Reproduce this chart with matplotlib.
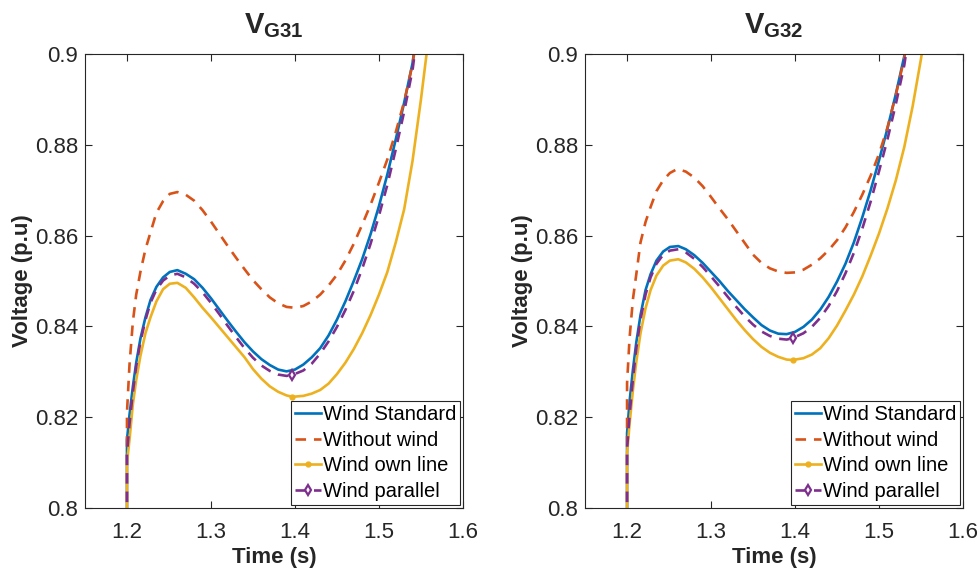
import matplotlib
matplotlib.use("Agg")
from matplotlib import pyplot as plt

plt.rcParams['font.family'] = ['Liberation Sans', 'DejaVu Sans']
plt.rcParams['mathtext.fontset'] = 'custom'
plt.rcParams['mathtext.rm'] = 'Liberation Sans'
plt.rcParams['mathtext.bf'] = 'Liberation Sans:bold'

# ---- data (time s, voltage p.u) ----
# V_G31
t_std_31 = [1.2, 1.2, 1.203, 1.207, 1.211, 1.216, 1.222, 1.228, 1.235, 1.243, 1.251, 1.26, 1.27,
            1.28, 1.29, 1.30, 1.31, 1.32, 1.33, 1.34, 1.35, 1.36, 1.37, 1.38, 1.39, 1.40, 1.41,
            1.42, 1.43, 1.44, 1.45, 1.46, 1.47, 1.48, 1.49, 1.50, 1.51, 1.52, 1.53, 1.54, 1.545]
v_std_31 = [0.75, 0.815, 0.8205, 0.8267, 0.832, 0.8373, 0.842, 0.8458, 0.8487, 0.8508, 0.852, 0.8524,
            0.8516, 0.8504, 0.8485, 0.8462, 0.8437, 0.8412, 0.8388, 0.8365, 0.8345, 0.8328, 0.8315,
            0.8305, 0.8301, 0.8305, 0.8316, 0.8332, 0.8352, 0.838, 0.8415, 0.8455, 0.85, 0.8548,
            0.8603, 0.8665, 0.8735, 0.8812, 0.8893, 0.898, 0.905]
t_no_31 = [1.2, 1.2, 1.203, 1.207, 1.211, 1.216, 1.222, 1.228, 1.235, 1.243, 1.251, 1.26, 1.27,
           1.28, 1.29, 1.30, 1.31, 1.32, 1.33, 1.34, 1.35, 1.36, 1.37, 1.38, 1.39, 1.40, 1.41,
           1.42, 1.43, 1.44, 1.45, 1.46, 1.47, 1.48, 1.49, 1.50, 1.51, 1.52, 1.53, 1.54, 1.546]
v_no_31 = [0.75, 0.821, 0.8315, 0.841, 0.847, 0.852, 0.857, 0.8607, 0.865, 0.8676, 0.8692, 0.8696,
           0.869, 0.8677, 0.8656, 0.8631, 0.8604, 0.8577, 0.8551, 0.8526, 0.8502, 0.8482, 0.8464,
           0.8451, 0.8443, 0.8441, 0.8445, 0.8455, 0.847, 0.849, 0.8514, 0.8545, 0.8582, 0.8624,
           0.8668, 0.8717, 0.8768, 0.8828, 0.8895, 0.8978, 0.905]
t_own_31 = [1.2, 1.2, 1.203, 1.207, 1.211, 1.216, 1.222, 1.228, 1.235, 1.243, 1.251, 1.26, 1.27,
            1.28, 1.29, 1.30, 1.31, 1.32, 1.33, 1.34, 1.35, 1.36, 1.37, 1.38, 1.39, 1.397, 1.41,
            1.42, 1.43, 1.44, 1.45, 1.46, 1.47, 1.48, 1.49, 1.50, 1.51, 1.52, 1.53, 1.54, 1.55,
            1.556, 1.56]
v_own_31 = [0.75, 0.81, 0.815, 0.8228, 0.8282, 0.8335, 0.8385, 0.842, 0.8455, 0.8482, 0.8494, 0.8496,
            0.8485, 0.8464, 0.8441, 0.842, 0.8398, 0.8376, 0.8354, 0.8332, 0.8306, 0.8285, 0.8268,
            0.8256, 0.8248, 0.8245, 0.8247, 0.8252, 0.826, 0.8274, 0.8295, 0.832, 0.835, 0.8385,
            0.8425, 0.847, 0.852, 0.8585, 0.8658, 0.8765, 0.89, 0.899, 0.905]
t_par_31 = [1.2, 1.2, 1.203, 1.207, 1.211, 1.216, 1.222, 1.228, 1.235, 1.243, 1.251, 1.26, 1.27,
            1.28, 1.29, 1.30, 1.31, 1.32, 1.33, 1.34, 1.35, 1.36, 1.37, 1.38, 1.39, 1.397, 1.41,
            1.42, 1.43, 1.44, 1.45, 1.46, 1.47, 1.48, 1.49, 1.50, 1.51, 1.52, 1.53, 1.54, 1.546]
v_par_31 = [0.75, 0.812, 0.8185, 0.8255, 0.8312, 0.8366, 0.8414, 0.8452, 0.8481, 0.8501, 0.8512, 0.8516,
            0.8508, 0.8494, 0.8475, 0.8452, 0.8427, 0.8401, 0.8376, 0.8352, 0.8331, 0.8314, 0.8302,
            0.8294, 0.8291, 0.8293, 0.8303, 0.8318, 0.834, 0.8367, 0.8399, 0.8436, 0.8478, 0.8527,
            0.8582, 0.8644, 0.8712, 0.879, 0.8873, 0.8965, 0.905]

# V_G32
t_std_32 = [1.2, 1.2, 1.203, 1.207, 1.211, 1.216, 1.222, 1.228, 1.235, 1.243, 1.251, 1.261, 1.27,
            1.28, 1.29, 1.30, 1.31, 1.32, 1.33, 1.34, 1.35, 1.36, 1.37, 1.38, 1.39, 1.40, 1.41,
            1.42, 1.43, 1.44, 1.45, 1.46, 1.47, 1.48, 1.49, 1.50, 1.51, 1.52, 1.53, 1.535]
v_std_32 = [0.75, 0.8165, 0.8235, 0.8305, 0.8365, 0.8425, 0.848, 0.8515, 0.8545, 0.8565, 0.8575, 0.8577,
            0.857, 0.8557, 0.854, 0.852, 0.85, 0.8478, 0.8458, 0.8438, 0.842, 0.8403, 0.8391, 0.8384,
            0.8383, 0.8388, 0.8399, 0.8415, 0.8437, 0.8465, 0.8499, 0.8538, 0.8585, 0.864, 0.87,
            0.8766, 0.8836, 0.8912, 0.8995, 0.905]
t_no_32 = [1.2, 1.2, 1.203, 1.207, 1.211, 1.216, 1.222, 1.228, 1.235, 1.243, 1.251, 1.26, 1.27,
           1.28, 1.29, 1.30, 1.31, 1.32, 1.33, 1.34, 1.35, 1.36, 1.37, 1.38, 1.39, 1.40, 1.41,
           1.42, 1.43, 1.44, 1.45, 1.46, 1.47, 1.48, 1.49, 1.50, 1.51, 1.52, 1.53, 1.535]
v_no_32 = [0.75, 0.8275, 0.8375, 0.846, 0.8515, 0.8585, 0.863, 0.8663, 0.8698, 0.8722, 0.8738, 0.8747,
           0.8741, 0.8728, 0.8709, 0.8685, 0.866, 0.8636, 0.861, 0.8584, 0.8558, 0.854, 0.8528,
           0.8521, 0.8518, 0.8519, 0.8525, 0.8536, 0.855, 0.8568, 0.859, 0.8618, 0.8652, 0.869,
           0.8732, 0.878, 0.8838, 0.891, 0.899, 0.905]
t_own_32 = [1.2, 1.2, 1.203, 1.207, 1.211, 1.216, 1.222, 1.228, 1.235, 1.243, 1.251, 1.261, 1.27,
            1.28, 1.29, 1.30, 1.31, 1.32, 1.33, 1.34, 1.35, 1.36, 1.37, 1.38, 1.39, 1.397, 1.41,
            1.42, 1.43, 1.44, 1.45, 1.46, 1.47, 1.48, 1.49, 1.50, 1.51, 1.52, 1.53, 1.54, 1.55, 1.555]
v_own_32 = [0.75, 0.812, 0.8185, 0.826, 0.8322, 0.8385, 0.844, 0.848, 0.8512, 0.8534, 0.8545, 0.8548,
            0.8541, 0.8527, 0.8508, 0.8486, 0.8462, 0.8438, 0.8414, 0.8392, 0.8372, 0.8355, 0.8342,
            0.8333, 0.8327, 0.8326, 0.833, 0.8338, 0.8352, 0.8374, 0.8402, 0.8435, 0.847, 0.851,
            0.8556, 0.8605, 0.866, 0.8722, 0.8795, 0.8885, 0.899, 0.905]
t_par_32 = [1.2, 1.2, 1.203, 1.207, 1.211, 1.216, 1.222, 1.228, 1.235, 1.243, 1.251, 1.261, 1.27,
            1.28, 1.29, 1.30, 1.31, 1.32, 1.33, 1.34, 1.35, 1.36, 1.37, 1.38, 1.39, 1.397, 1.41,
            1.42, 1.43, 1.44, 1.45, 1.46, 1.47, 1.48, 1.49, 1.50, 1.51, 1.52, 1.53, 1.536]
v_par_32 = [0.75, 0.813, 0.8205, 0.8285, 0.8352, 0.8415, 0.847, 0.8508, 0.8538, 0.8558, 0.8567, 0.857,
            0.8563, 0.8549, 0.8531, 0.851, 0.8488, 0.8465, 0.8443, 0.8422, 0.8404, 0.8389, 0.8379,
            0.8373, 0.8371, 0.8374, 0.8385, 0.8399, 0.8419, 0.8445, 0.8478, 0.8517, 0.8562, 0.8615,
            0.8675, 0.8742, 0.8812, 0.889, 0.8975, 0.905]

labels = ['Wind Standard', 'Without wind', 'Wind own line', 'Wind parallel']
titles = [r'$\mathbf{V}_{\mathbf{G31}}$', r'$\mathbf{V}_{\mathbf{G32}}$']
x_ticks = [1.2, 1.3, 1.4, 1.5, 1.6]
y_ticks = [0.8, 0.82, 0.84, 0.86, 0.88, 0.9]
y_ticklabels = ['0.8', '0.82', '0.84', '0.86', '0.88', '0.9']

panels = [
    (t_std_31, v_std_31, t_no_31, v_no_31, t_own_31, v_own_31, t_par_31, v_par_31),
    (t_std_32, v_std_32, t_no_32, v_no_32, t_own_32, v_own_32, t_par_32, v_par_32),
]

c_blue = '#0072BD'
c_orange = '#D95319'
c_yellow = '#EDB120'
c_purple = '#7E2F8E'
grey = '#262626'

fig = plt.figure(figsize=(9.8, 5.75), dpi=100)
positions = [[0.0867, 0.1165, 0.3857, 0.7895], [0.597, 0.1165, 0.3857, 0.7895]]

for k, pos in enumerate(positions):
    ts, vs, tn, vn, to, vo, tp, vp = panels[k]
    ax = fig.add_axes(pos)
    ax.plot(ts, vs, color=c_blue, lw=1.9, label=labels[0])
    ax.plot(tn, vn, color=c_orange, lw=1.9, ls=(0, (4, 3)), label=labels[1])
    ax.plot(to, vo, color=c_yellow, lw=1.9, marker='.', ms=7,
            markevery=[to.index(1.397)], label=labels[2])
    ax.plot(tp, vp, color=c_purple, lw=1.9, ls=(0, (4, 3)), marker='d', ms=5,
            mfc='none', mew=1.6, markevery=[tp.index(1.397)], label=labels[3])

    ax.set_xlim(1.15, 1.6)
    ax.set_ylim(0.8, 0.9)
    ax.set_xticks(x_ticks)
    ax.set_yticks(y_ticks)
    ax.set_yticklabels(y_ticklabels)
    ax.tick_params(direction='in', top=True, right=True, length=5, width=0.8,
                   colors=grey, labelsize=16)
    ax.tick_params(axis='x', pad=10)
    ax.tick_params(axis='y', pad=5)
    for sp in ax.spines.values():
        sp.set_color(grey)
        sp.set_linewidth(0.8)
    ax.set_xlabel('Time (s)', fontsize=16, fontweight='bold', color=grey, labelpad=3)
    ax.set_ylabel('Voltage (p.u)', fontsize=16, fontweight='bold', color=grey, labelpad=1)
    ax.set_title(titles[k], fontsize=21, color=grey, pad=15)

    leg = ax.legend(loc='lower right', fontsize=14.5, frameon=True, fancybox=False,
                    edgecolor=grey, framealpha=1, handlelength=1.3, handletextpad=0.08,
                    labelspacing=0.33, borderpad=0.2, borderaxespad=0.15)
    leg.get_frame().set_linewidth(0.8)

fig.savefig('out.png', dpi=100)
